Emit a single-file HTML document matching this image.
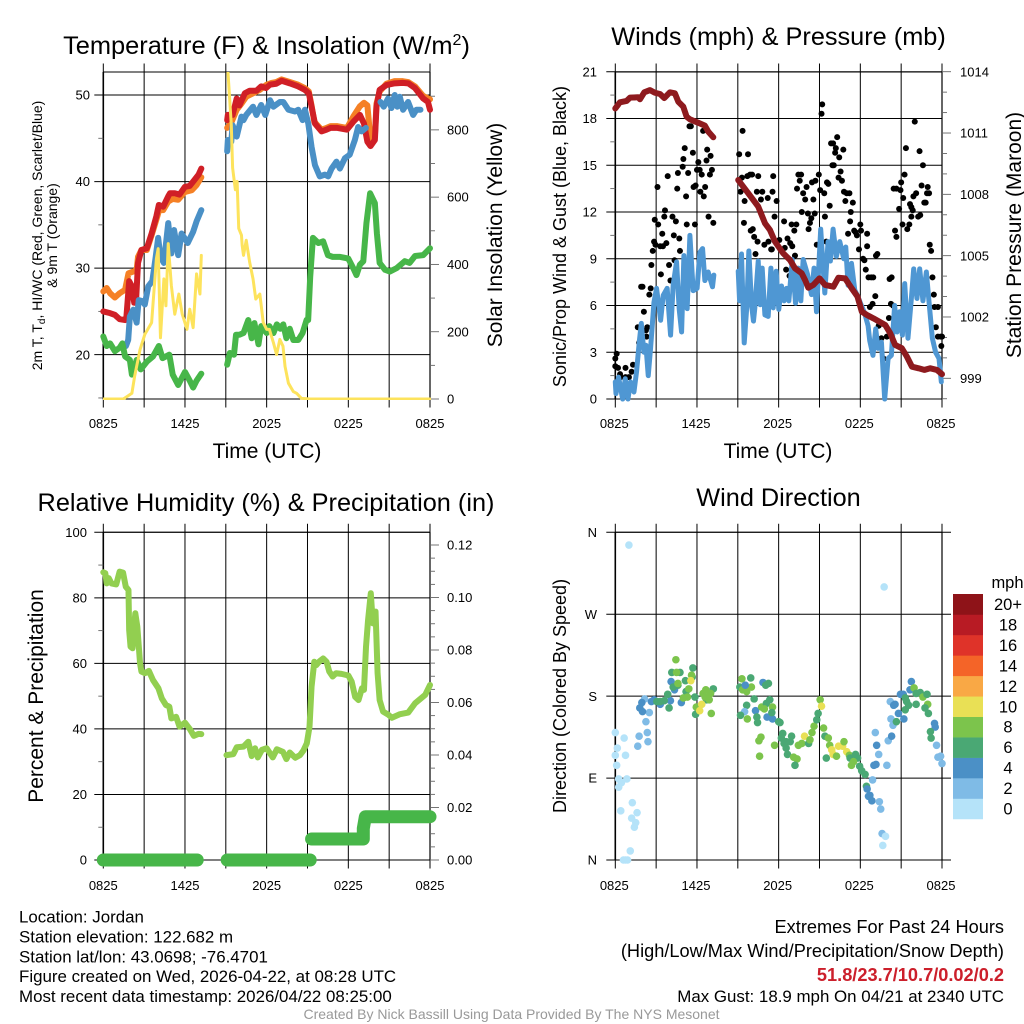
<!DOCTYPE html>
<html lang="en">
<head>
<meta charset="utf-8">
<title>NYS Mesonet Meteogram - Jordan</title>
<style>
html,body{margin:0;padding:0;background:#fff;width:1024px;height:1024px;overflow:hidden}
svg{display:block;font-family:"Liberation Sans",Arial,sans-serif}
text{fill:#000}
</style>
</head>
<body>
<svg id="chart" xmlns="http://www.w3.org/2000/svg" width="1024" height="1024" viewBox="0 0 1024 1024">
<defs><clipPath id="clip-temp"><rect x="103" y="72" width="328" height="328"/></clipPath></defs>
<rect x="0" y="0" width="1024" height="1024" fill="#fff"/>
<g id="layer"></g>
<text x="266.5" y="54" font-size="25.4" text-anchor="middle">Temperature (F) &amp; Insolation (W/m<tspan font-size="16" dy="-9">2</tspan><tspan dy="9">)</tspan></text>
<text x="778.5" y="45" font-size="25.3" text-anchor="middle">Winds (mph) &amp; Pressure (mb)</text>
<text x="266" y="511" font-size="25.3" text-anchor="middle">Relative Humidity (%) &amp; Precipitation (in)</text>
<text x="778.5" y="506" font-size="25.3" text-anchor="middle">Wind Direction</text>
<text x="267" y="458" font-size="21" text-anchor="middle">Time (UTC)</text>
<text x="778" y="458" font-size="21" text-anchor="middle">Time (UTC)</text>
<text transform="translate(42,235.5) rotate(-90)" font-size="14" text-anchor="middle">2m T, T<tspan font-size="10" dy="3">d</tspan><tspan dy="-3">, HI/WC (Red, Green, Scarlet/Blue)</tspan></text>
<text transform="translate(57,235.5) rotate(-90)" font-size="14" text-anchor="middle">&amp; 9m T (Orange)</text>
<text transform="translate(502,235) rotate(-90)" font-size="21" text-anchor="middle">Solar Insolation (Yellow)</text>
<text transform="translate(566,236.5) rotate(-90)" font-size="18" text-anchor="middle">Sonic/Prop Wind &amp; Gust (Blue, Black)</text>
<text transform="translate(1021,235) rotate(-90)" font-size="21" text-anchor="middle">Station Pressure (Maroon)</text>
<text transform="translate(43,696) rotate(-90)" font-size="21" text-anchor="middle">Percent &amp; Precipitation</text>
<text transform="translate(566,696) rotate(-90)" font-size="18" text-anchor="middle">Direction (Colored By Speed)</text>
<text x="1007.5" y="588" font-size="16.5" text-anchor="middle">mph</text>
<g font-size="16.9">
<text x="19" y="922.5">Location: Jordan</text>
<text x="19" y="942.5">Station elevation: 122.682 m</text>
<text x="19" y="962.5">Station lat/lon: 43.0698; -76.4701</text>
<text x="19" y="982">Figure created on Wed, 2026-04-22, at 08:28 UTC</text>
<text x="19" y="1002">Most recent data timestamp: 2026/04/22 08:25:00</text>
</g>
<g text-anchor="end">
<text x="1004" y="933" font-size="18.2">Extremes For Past 24 Hours</text>
<text x="1004" y="957" font-size="18.2">(High/Low/Max Wind/Precipitation/Snow Depth)</text>
<text x="1004" y="981" font-size="18.2" font-weight="bold" style="fill:#cc1f2b">51.8/23.7/10.7/0.02/0.2</text>
<text x="1004" y="1002" font-size="16.9">Max Gust: 18.9 mph On 04/21 at 2340 UTC</text>
</g>
<text x="511.5" y="1019" font-size="14" text-anchor="middle" style="fill:#999">Created By Nick Bassill Using Data Provided By The NYS Mesonet</text>
</svg>
<script>
// ---- tick labels ----
const timeTickHours = [0, 3, 6, 9, 12, 15, 18, 21, 24];
const timeTickLabels = ['0825', '', '1425', '', '2025', '', '0225', '', '0825'];
const tempTicks = [20, 30, 40, 50];
const tempMinorTicks = [15, 25, 35, 45];
const insolTicks = [0, 200, 400, 600, 800];
const insolMinorTicks = [100, 300, 500, 700, 900];
const windTicks = [0, 3, 6, 9, 12, 15, 18, 21];
const windMinorTicks = [1.5, 4.5, 7.5, 10.5, 13.5, 16.5, 19.5];
const pressureTicks = [999, 1002, 1005, 1008, 1011, 1014];
const pressureMinorTicks = [998, 1000, 1001, 1003, 1004, 1006, 1007, 1009, 1010, 1012, 1013];
const rhTicks = [0, 20, 40, 60, 80, 100];
const rhMinorTicks = [10, 30, 50, 70, 90];
const precipTicks = [0, 0.02, 0.04, 0.06, 0.08, 0.10, 0.12];
const precipMinorTicks = [0.005, 0.01, 0.015, 0.025, 0.03, 0.035, 0.045, 0.05, 0.055, 0.065, 0.07, 0.075, 0.085, 0.09, 0.095, 0.105, 0.11, 0.115];
const dirTicks = [0, 90, 180, 270, 360];
const dirTickLabels = ['N', 'E', 'S', 'W', 'N'];
const speedLabels = ['0', '2', '4', '6', '8', '10', '12', '14', '16', '18', '20+'];
const speedColors = ['#b5e3f9', '#7fbbe6', '#4b90c6', '#4aa874', '#7cc44c', '#e9e055', '#f9a845', '#f46428', '#df3329', '#b81b24', '#8e1318'];

// ---- temperature panel (F), null marks a data gap ----
const orangeHours = [0,.25,.5,.85,1.2,1.6,1.85,2.2,2.45,2.55,2.8,3.2,3.55,3.9,4.1,4.4,4.77,5.1,5.5,6,6.5,6.85,7.2,null,9.1,9.4,9.8,10.15,10.5,11,11.5,12,12.35,12.7,13.1,13.7,14.3,14.8,15.1,15.3,15.5,16.03,16.4,16.7,17.2,17.9,18.36,18.85,19.15,19.4,19.63,19.95,20.07,20.3,20.8,21.4,22,22.4,22.9,23.5,24];
const orangeValues = [27.3,27.7,27.1,26.6,27.1,27.5,29.4,29.6,29.8,31.3,32.1,32.1,33.8,35.6,36.7,36.7,37.7,38,37.9,38.8,39,39.6,40.5,null,46.2,46.8,48.3,49,49.8,50.2,50.6,51.2,51.4,51.5,51.8,51.5,51.2,50.8,50.4,48.8,46.9,46,46.2,46.4,46.4,46.2,47.5,48.7,49.1,48.8,44.8,45.2,49,50.4,51.3,51.6,51.6,51.5,51,49.9,49.5];
const redHours = [0,.5,.85,1.2,1.6,1.7,1.9,2.1,2.27,2.4,2.55,2.8,3.2,3.55,3.9,4.08,4.4,4.77,4.9,5.25,5.6,6,6.35,6.7,7,7.2,null,9.1,9.15,9.5,9.8,10,10.4,10.75,11.25,11.6,11.95,12.25,12.7,13.1,13.7,14.3,14.8,15.1,15.3,15.55,16.03,16.4,16.7,17.2,17.9,18.36,18.85,19.15,19.4,19.63,19.95,20.07,20.3,20.8,21.4,22,22.4,22.9,23.5,23.85,24];
const redValues = [25,24.8,24.6,24.1,24,24.4,28.5,27.9,26,26,30.6,32.1,32.3,34,36,37.3,37.1,38.3,38.65,38.65,38.5,39.4,39.5,40.2,40.8,41.5,null,47.1,47.7,47.7,49.6,48.8,50.2,50.5,50.5,51,50.8,51.2,51.3,51.65,51.35,51,50.6,50.2,48.65,46.7,45.8,46,46.2,46.2,46,46.9,47.7,46.7,44.6,44.1,44.8,48.65,50.6,51.15,51.35,51.4,51.35,50.8,49.6,49.2,48.3];
const blueHours = [1.66,1.83,1.95,2.2,2.45,2.6,2.85,3.05,3.3,3.6,3.85,4.03,4.2,4.45,4.77,5,5.2,5.5,5.75,6.2,6.6,6.85,7.2,null,9.1,9.15,9.4,9.5,9.8,10.15,10.3,10.5,11,11.25,11.6,11.9,12.25,12.5,12.98,13.22,13.6,14.08,14.32,14.64,14.81,15.06,15.3,15.55,15.9,16.28,16.52,16.77,17.13,17.38,17.75,18.1,18.48,18.72,18.97,19.29,null,20.36,20.6,20.92,21.17,21.41,21.6,21.78,22.02,22.39,22.76,23,23.3];
const blueValues = [21,21.7,24.4,25.2,23.7,26.3,26.2,25.8,27.9,28.5,31.3,33.5,31.3,30.6,35.2,31.7,34.4,31.5,34,32.9,34.2,35.4,36.7,null,43.5,44.8,44.6,46.5,45.2,47.5,47.1,47.7,48.65,47.7,48.85,47.7,49.4,48.65,49.2,49.2,48.3,48.1,48.3,47.1,48.3,46.7,44,41.9,40.6,40.8,40.6,41.5,42.3,41.5,42.7,43.1,44.8,46.3,45.8,46.2,null,49.2,48.65,49.6,48.5,50,48.65,49.8,48.3,49.2,47.7,48.3,48.3];
const greenHours = [0,.25,.5,.85,1.2,1.4,1.6,1.95,2.1,2.45,2.75,3.2,3.65,4.08,4.35,4.85,5.1,5.5,6,6.35,6.6,6.85,7.2,null,9.1,9.3,9.6,9.75,10,10.3,10.65,10.9,11.1,11.4,11.6,12,12.2,12.5,12.75,13,13.22,13.45,13.7,13.96,14.32,14.64,14.93,15.05,15.2,15.4,15.8,16.15,16.5,16.85,17.4,18,18.36,18.6,18.85,19.1,19.33,19.6,19.95,20.1,20.3,20.7,21.05,21.55,22.15,22.5,22.9,23.5,24];
const greenValues = [22.1,21,21.3,20.4,20.8,21.3,19.8,19.4,17.7,19.4,18.3,19.2,19.8,21,19.6,20,17.7,16.5,18,17,16.2,17,17.8,null,18.85,20.2,20,22.3,22.3,22.5,24,21.9,23.65,21.2,23.3,22.5,23.3,22.5,23.5,23,23.5,21.9,23,21.7,21.7,22.5,24,24,29,33.5,32.9,33.1,31.5,31.3,31.3,31.1,30,29.2,30.4,30.8,35.2,38.65,37.5,34,30.6,29.8,29.6,30,30.8,30.6,31.4,31.5,32.3];
const insolHours = [0,1.47,2.1,2.3,2.7,3.05,3.55,3.9,4.03,4.2,4.45,4.6,4.77,5,5.25,5.55,5.8,6.15,6.35,6.6,6.85,7.1,7.2,null,9.1,9.15,9.4,9.5,9.7,9.83,9.95,10.15,10.2,10.3,10.5,10.75,11,11.2,11.5,11.75,12,12.2,12.5,12.73,12.97,13.2,13.35,13.6,13.96,14.2,14.55,15.2,24];
const insolValues = [0,0,17,67,147,192,227,417,447,182,357,277,462,337,252,312,252,207,267,212,372,312,427,null,977,977,817,687,622,647,507,487,457,427,472,407,357,297,312,227,207,207,167,132,177,157,97,47,22,17,2,0,0];

// ---- winds and pressure panel ----
const windHours = [0,.05,.24,.54,.73,.93,1.12,1.37,1.56,1.76,1.91,2.1,2.25,2.42,2.59,2.84,3.03,3.33,3.52,3.81,4.06,4.25,4.5,4.69,4.87,5.04,5.28,5.48,5.72,6.01,6.21,6.41,6.58,6.82,7.14,7.24,null,9.03,9.13,9.27,9.47,9.67,9.81,10.01,10.15,10.25,10.5,10.64,10.79,10.99,11.23,11.43,11.6,11.82,12.01,12.21,12.4,12.58,12.75,13,13.24,13.43,13.63,13.8,14.12,14.41,14.6,14.78,15.09,15.39,15.63,15.8,16,16.24,16.49,16.78,16.93,17.1,17.35,17.59,17.83,18.08,18.32,18.57,18.69,18.93,19.13,19.3,19.55,19.79,20.04,20.28,20.52,20.7,20.89,21.09,21.26,21.5,21.75,21.92,22.16,22.36,22.6,22.85,23.04,23.29,23.53,23.78,23.95];
const windSpeeds = [1.1,.35,1.4,0,1.3,0,1.1,.45,1.75,3.65,4.85,3,3.45,1.5,3.25,6.2,7.1,5.05,6.65,7.1,4.1,7.3,8.8,5.8,4.3,9.2,5.8,10.5,6.95,7.1,9.4,9.65,7.6,8.15,7.2,7.95,null,8.2,6.3,9.3,3.6,6.05,9.5,6.05,5,5.85,8.85,6.05,8.4,5.4,5.3,8.4,5.85,8.2,5.75,7.25,6.3,7.1,6.3,8.95,6.15,8.4,6.3,8.95,8,6.7,8.4,5.6,10.9,6.8,10.1,8.85,10.9,9.15,10.1,9,9.75,7.3,8.7,7,6.55,6,5.5,4.7,3.75,2.8,4.5,3.25,3.65,0,2.6,2.8,6,4.3,5.6,4.1,7.4,3.9,6.45,8.35,6.45,8.35,6.3,8.15,6.3,3.9,3,2.6,1.1];
const gustHours = [0,.1,0,.2,.35,.4,.75,.75,1,1.2,1.3,1.65,1.75,1.9,2,2.1,2.25,2.35,2.3,2.3,2.5,2.6,2.65,2.75,2.85,2.9,3.1,3.15,2.95,3.3,3.35,3.45,3.5,3.6,3.65,3.75,3.85,3.95,4.05,4.2,4.3,4.35,4.45,4.55,4.6,4.7,4.75,4.95,5,5.1,5.2,5.25,5.35,5.45,5.55,5.7,5.75,5.85,5.9,6,6.1,6.2,6.25,6.35,6.45,6.5,6.6,6.7,6.75,6.85,6.95,7,7.1,7.2,9.1,9.35,9.3,9.2,9.45,9.5,9.75,9.7,9.9,10.05,9.95,10.1,10.2,10.3,10.45,10.4,10.5,10.7,10.8,10.95,11.2,11.25,11.45,11.55,11.6,11.85,11.7,11.5,12.05,12.4,12.15,12.45,12.65,12.85,13,12.95,13.15,13.3,13.2,12.55,12.8,13.35,13.45,13.55,13.65,13.7,13.8,13.95,14.05,14.15,14.2,14.3,14.4,14.45,14.55,14.65,14.7,14.8,14.95,15.05,15.15,15.2,15.35,15.4,15.5,15.55,15.65,15.75,15.85,15.95,16,16.05,16.15,16.2,16.3,16.45,16.55,16.4,16.65,16.75,16.8,16.9,17,17.1,17.2,17.25,17.3,17.45,17.55,17.65,17.75,17.9,18,18.05,18.2,18.3,18.4,18.5,18.5,18.6,18.8,18.95,18.7,18.9,19.1,19.15,19.25,19.35,19.55,19.7,19.85,19.95,20.1,20.15,20.3,20.25,20.4,20.55,20.65,20.45,20.65,20.85,20.95,21,21.1,21.15,21.25,21.35,21.45,21.6,21.65,21.75,21.75,21.85,21.9,22,22.1,22.25,22.35,22.4,22.5,22.6,22.7,22.8,22.9,22.95,23.05,23.1,23.2,23.3,23.4,23.45,23.7,23.55,23.7,23.9,24,23.95];
const gustSpeeds = [2.6,2.9,2.1,2,1.6,1.4,2,1.4,1.4,1.75,2.2,4.6,3.6,7.2,7.2,5.6,4.4,4.6,4,3.1,6.7,7.1,8.6,9.5,10.1,11.5,13.6,11.2,9.9,9.8,8,10.6,9.8,11.7,12.1,10,14.3,8.6,7.6,11.7,10.5,8.9,11.4,13.5,14.5,10.3,9.5,14.9,15.4,16.1,13,11.2,14.5,17.5,17.5,15.8,13.6,11.2,13.7,14.7,15.2,14.7,13.3,14.4,17.2,13,13.6,15.3,16,11.7,14.4,15.6,14.7,11.3,15.7,17.2,14.2,13.3,11.3,12.7,15.7,14.3,14.4,14.4,10.8,10.9,10.4,9.3,10.1,13.3,14.3,12.8,13.3,9.9,12.9,10.1,9.6,13.3,14.3,12.7,11.7,9.6,10.2,11.4,9.6,9.7,10.3,10,9.8,11.2,10.8,11.2,9.2,8.3,7.9,13.5,14.4,14,14.4,12,13.2,12.8,13.6,11.9,10.9,11.3,11.6,13.9,12.8,11.9,14,9.9,14.4,13.4,18.3,18.9,13.2,11.7,10.1,13.9,13.8,12.4,16.4,15,16.4,15,15.8,16.1,16.8,15.5,14.6,14.2,14,16,13.3,12.7,13.2,10.6,13.2,11.4,12,12.6,10.8,10.7,10.5,9.6,11.2,10.8,9,8.9,8.3,10.6,9.8,7.8,7.8,7.8,5.9,6.1,6.6,9.2,9.3,4.7,3.9,2.6,1.5,4,5.2,7.7,7.8,6.1,6,10.8,10.4,13.5,13.5,12.2,13.4,13.9,11.2,12.9,14.4,16.1,10.9,11.2,12.5,12.3,11.7,12.1,13,17.8,13.2,11.7,15.9,11.8,13.7,15,12.6,12.6,13.2,13.6,13.2,9.9,9.5,7.8,6.7,5.9,5.9,4.6,4,4,4,3.4];
const pressureHours = [0,.34,.83,1.08,1.69,1.81,2.13,2.55,2.91,3.28,3.6,4.01,4.38,4.63,4.99,5.24,5.48,6.1,6.58,6.83,7.2,null,9.03,9.77,10.5,11,11.36,11.73,12.34,12.83,13.2,13.69,13.94,14.18,14.55,15,15.41,16.02,16.39,16.88,17.37,17.79,18.11,18.48,18.97,19.83,20.2,20.56,21.05,21.42,21.79,22.28,22.7,23.14,23.63,24];
const pressureValues = [1012.2,1012.5,1012.57,1012.73,1012.75,1012.65,1012.99,1013.1,1012.97,1012.91,1012.71,1012.99,1012.94,1012.53,1012.29,1011.8,1011.67,1011.5,1011.36,1011.07,1010.79,null,1008.7,1008.05,1007.4,1006.58,1006.26,1005.69,1005.11,1004.79,1004.38,1004.14,1003.81,1003.43,1003.57,1003.89,1003.57,1003.48,1003.92,1003.89,1003.4,1003,1002.26,1002.1,1001.93,1001.61,1001.2,1000.63,1000.47,1000.06,999.57,999.49,999.41,999.49,999.41,999.2];

// ---- humidity and precipitation panel ----
const rhHours = [0,.15,.25,.4,.6,.95,1.2,1.45,1.65,1.85,1.9,2,2.15,2.35,2.5,2.7,2.8,3.05,3.35,3.65,4.05,4.3,4.6,4.85,5,5.35,5.6,6,6.35,6.65,7,7.2,null,9.05,9.55,9.8,10.3,10.65,10.9,11.15,11.35,11.65,12,12.45,12.75,13.2,13.45,13.7,14.1,14.45,14.7,14.95,15.15,15.3,15.5,15.65,15.9,16.15,16.4,16.6,16.85,17.1,17.5,18,18.25,18.5,18.75,19,19.15,19.3,19.45,19.65,19.8,20,20.15,20.3,20.55,20.95,21.2,21.8,22.4,22.9,23.65,24];
const rhValues = [87.8,87.5,84.4,86,84.4,84.1,88,87.7,83.4,82.4,70.2,65.1,64.6,75.3,71.2,60,57.5,57,57.7,54.9,52.4,49.3,47.3,46.8,43.2,43.7,40.7,41.9,40,37.9,38.5,38.4,null,32,32.3,34.4,34.6,36.1,31.7,34.1,31.3,33.6,34.1,31.3,33.8,33,30.8,32.8,31.2,32,33.4,35.6,40.7,52.9,60.5,59.5,60.7,61.5,60.5,57.5,56,57,56.8,56.3,54.4,49.8,48.8,52.4,51.9,65.1,73.2,81.4,72.2,75.8,57,48.8,45.3,44.3,43.4,44.5,45,47.8,50.4,53.4];
const precipHours = [0,6.9,null,9.1,15.2,null,15.3,19.1,19.1,19.25,24];
const precipValues = [0,0,null,0,0,null,0.008,0.008,0.012,0.0165,0.0165];

// ---- wind direction panel (hour, degrees, speed mph) ----
const dirHours = [1,0,.65,.15,0,.75,.1,.25,.45,.85,.25,1.25,.4,1.6,1.2,1.5,1.4,1.1,.6,.9,.75,1.75,2.35,2.4,1.65,2.25,2.5,2.15,1.95,1.8,2,2.65,2.85,3.3,4.05,4.85,4.1,4.35,3.05,3.3,3.6,3.85,3.95,4.15,4.75,4.25,4.6,5.15,5.7,5.2,5.85,5.9,7.2,6.7,5.65,4.45,4.5,4.6,5.6,5.4,5,5.3,6.45,6.65,7,6.9,7.05,5.95,6.6,5.55,6.35,6.2,9.15,9.3,9.95,9.35,9.65,10,9.55,10.2,9.65,9.5,9.2,9.7,10.3,10.4,10.45,10.7,10.55,10.6,10.85,11.05,11.25,11.35,10.75,11.1,10.95,11.15,11.55,11.55,11.5,11.7,12,12.1,12.3,12.2,12.4,12.55,12.55,12.65,12.95,12.85,13.1,13.35,13.2,13.45,13.7,13.9,14.2,14.3,14.45,14.6,14.8,14.9,15.05,15.15,15.3,15.4,15.65,15.75,15.5,15.9,16,16.25,16.4,16.7,16.8,17,17.2,17.25,17.65,17.8,17.35,17.5,17.95,18.1,18.35,18.45,18.7,18.6,18.85,18.5,18.9,19.1,19.2,19.35,19,19.15,19.95,19.4,19.5,19.6,19.85,19.65,19.75,20.05,20.3,20.2,20.55,20.45,20.8,20.25,20.4,20.65,21.2,20.95,21.15,21.3,21.4,21.3,21.55,21.65,21.75,21.95,22.1,22.1,22.4,22.6,22.9,22.95,22.75,23,23.45,23.5,23.15,23.2,23.6,23.7,23.9,24];
const dirValues = [346,140,134,123,115,115,104,89,85,89,80,63,54,52,46,41,36,10,0,0,0,136,140,130,125,152,162,177,173,167,163,174,176,171,175,173,196,187,174,174,175,182,167,206,206,190,192,197,211,185,179,160,188,176,201,220,206,194,203,188,178,179,183,187,183,176,161,168,179,197,171,164,190,199,200,187,185,190,192,177,170,163,159,155,164,157,151,135,131,114,195,192,194,176,168,172,166,157,168,155,162,126,152,151,139,134,128,130,123,116,136,130,113,111,104,126,128,136,128,132,140,147,154,161,176,169,145,136,134,126,112,121,116,114,125,125,130,119,115,112,116,112,104,108,103,98,94,81,71,70,65,78,88,140,126,116,104,105,104,64,56,29,26,16,300,131,136,174,171,170,161,155,148,152,155,182,182,178,174,165,170,187,196,189,183,171,184,179,182,171,167,161,150,146,141,134,126,113,114,106];
const dirSpeeds = [1,1,1,1,1,1,1,1,1,1,1,1,1,1,1,1,1,1,1,1,1,3,3,3,3,3,3,3,5,5,5,5,5,5,5,5,5,5,7,7,7,7,7,7,7,7,7,7,7,7,7,7,7,7,7,9,9,9,9,9,9,9,9,9,9,9,9,9,9,11,11,11,7,9,7,9,9,9,5,7,7,3,7,9,5,7,7,9,9,9,5,7,7,7,9,7,9,5,9,5,7,9,7,7,7,7,7,7,7,7,7,7,9,9,7,9,9,11,7,9,9,9,7,7,9,11,9,7,9,9,7,11,11,9,11,11,9,11,9,7,7,7,9,9,7,7,7,7,5,5,5,5,3,3,5,3,5,5,3,3,3,3,1,1,1,3,5,3,5,5,5,3,3,7,5,5,5,7,7,7,7,5,5,9,7,7,7,9,7,9,7,7,5,5,7,7,3,3,3,3];

// ---- geometry and axis functions ----
const layer = document.getElementById('layer');
const NS = 'http://www.w3.org/2000/svg';
const panelLeft = {x0: 103.3, x1: 430};
const panelRight = {x0: 615.3, x1: 942};
const rowTop = {top: 72, bottom: 399};
const rowBottom = {top: 532.3, bottom: 860};

function xAxis(panel) { return h => panel.x0 + (panel.x1 - panel.x0) * h / 24; }
function yAxis(pxBottom, pxTop, vBottom, vTop) { return v => pxBottom + (pxTop - pxBottom) * (v - vBottom) / (vTop - vBottom); }

function mk(tag, attrs, parent) {
  const el = document.createElementNS(NS, tag);
  for (const k in attrs) el.setAttribute(k, attrs[k]);
  (parent || layer).appendChild(el);
  return el;
}
function pathOf(hours, values, sx, sy) {
  let d = '', pen = false;
  for (let i = 0; i < hours.length; i++) {
    if (hours[i] === null || values[i] === null) { pen = false; continue; }
    d += (pen ? 'L' : 'M') + sx(hours[i]).toFixed(2) + ' ' + sy(values[i]).toFixed(2);
    pen = true;
  }
  return d;
}
function drawLine(name, hours, values, sx, sy, color, width, clip) {
  const el = mk('path', {d: pathOf(hours, values, sx, sy), fill: 'none', stroke: color, 'stroke-width': width, 'stroke-linecap': 'round', 'stroke-linejoin': 'round'});
  if (clip) el.setAttribute('clip-path', 'url(#' + clip + ')');
  
  
  return el;
}
function drawGridAndFrame(name, panel, row, sx, leftTicks, leftScale, leftExt, rightExt) {
  const g = mk('g', {stroke: '#000', 'stroke-width': 1, fill: 'none'});
  
  
  timeTickHours.forEach(h => {
    const x = sx(h);
    mk('line', {x1: x, x2: x, y1: row.top - 8.5, y2: row.bottom + 8.5}, g);
  });
  leftTicks.forEach(v => {
    const y = leftScale(v);
    mk('line', {x1: panel.x0 - leftExt, x2: panel.x1 + rightExt, y1: y, y2: y}, g);
  });
  mk('line', {x1: panel.x0, x2: panel.x1, y1: row.top, y2: row.top}, g);
  mk('line', {x1: panel.x0, x2: panel.x1, y1: row.bottom, y2: row.bottom}, g);
  mk('line', {x1: panel.x0, x2: panel.x0, y1: row.top, y2: row.bottom, 'stroke-width': 1.6}, g);
  mk('line', {x1: panel.x1, x2: panel.x1, y1: row.top, y2: row.bottom, 'stroke-width': 1.2}, g);
}
function drawMinorTicks(name, xStart, xEnd, ticks, scale, color) {
  const g = mk('g', {stroke: color || '#666', 'stroke-width': 0.9});
  
  
  ticks.forEach(v => { const y = scale(v); mk('line', {x1: xStart, x2: xEnd, y1: y, y2: y}, g); });
}
function drawLabels(name, x, anchor, ticks, scale, fmt) {
  const g = mk('g', {'font-size': 13, 'text-anchor': anchor});
  
  
  ticks.forEach((v, i) => {
    const t = mk('text', {x: x, y: scale(v) + 4.6}, g);
    t.textContent = fmt ? fmt(v, i) : String(v);
  });
}
function drawTimeLabels(name, sx, y, shift) {
  const g = mk('g', {'font-size': 13, 'text-anchor': 'middle'});
  
  
  timeTickHours.forEach((h, i) => {
    if (!timeTickLabels[i]) return;
    const t = mk('text', {x: sx(h) + shift, y: y}, g);
    t.textContent = timeTickLabels[i];
  });
}

// ---- temperature panel ----
const xL = xAxis(panelLeft), xR = xAxis(panelRight);
const yTemp = yAxis(399, 72, 14.88, 52.66);
const yInsol = yAxis(399, 72, 0, 972);
drawGridAndFrame('temperature-panel', panelLeft, rowTop, xL, tempTicks, yTemp, 9, 0);
drawMinorTicks('temperature-minor-ticks', panelLeft.x0 - 5, panelLeft.x0, tempMinorTicks, yTemp);
drawMinorTicks('insolation-major-ticks', panelLeft.x1, panelLeft.x1 + 9, insolTicks, yInsol);
drawMinorTicks('insolation-minor-ticks', panelLeft.x1, panelLeft.x1 + 5, insolMinorTicks, yInsol);
drawLabels('temperature-tick-labels', 90, 'end', tempTicks, yTemp);
drawLabels('insolation-tick-labels', 447, 'start', insolTicks, yInsol);
drawTimeLabels('temperature-time-labels', xL, 428, 0);
drawLine('nine-meter-temperature-line', orangeHours, orangeValues, xL, yTemp, '#f58025', 6);
drawLine('two-meter-temperature-line', redHours, redValues, xL, yTemp, '#d01f26', 6);
drawLine('heat-index-wind-chill-line', blueHours, blueValues, xL, yTemp, '#4a90c6', 6);
drawLine('dewpoint-line', greenHours, greenValues, xL, yTemp, '#47b649', 6);
drawLine('solar-insolation-line', insolHours, insolValues, xL, yInsol, '#fde35c', 3, 'clip-temp');

// ---- winds panel ----
const yWind = yAxis(399, 71.7, 0, 21);
const yPres = yAxis(378.3, 71.7, 999, 1014);
drawGridAndFrame('winds-panel', panelRight, rowTop, xR, windTicks, yWind, 9, 0);
drawMinorTicks('wind-minor-ticks', panelRight.x0 - 5, panelRight.x0, windMinorTicks, yWind);
drawMinorTicks('pressure-major-ticks', panelRight.x1, panelRight.x1 + 9, pressureTicks, yPres);
drawMinorTicks('pressure-minor-ticks', panelRight.x1, panelRight.x1 + 5, pressureMinorTicks, yPres);
drawLabels('wind-tick-labels', 597, 'end', windTicks, yWind);
drawLabels('pressure-tick-labels', 960, 'start', pressureTicks, yPres);
drawTimeLabels('winds-time-labels', xR, 428, -1);
const gustGroup = mk('g', {fill: '#000'});


gustHours.forEach((h, i) => {
  const c = mk('circle', {cx: xR(h), cy: yWind(gustSpeeds[i]), r: 3}, gustGroup);
  
  
});
drawLine('sonic-wind-line', windHours, windSpeeds, xR, yWind, '#4f97d3', 5);
drawLine('station-pressure-line', pressureHours, pressureValues, xR, yPres, '#8e1a1e', 6);

// ---- humidity panel ----
const yRh = yAxis(860, 532.3, 0, 100);
const yPrecip = yAxis(860, 545, 0, 0.12);
drawGridAndFrame('humidity-panel', panelLeft, rowBottom, xL, rhTicks, yRh, 9, 0);
drawMinorTicks('humidity-minor-ticks', panelLeft.x0 - 5, panelLeft.x0, rhMinorTicks, yRh);
drawMinorTicks('precipitation-major-ticks', panelLeft.x1, panelLeft.x1 + 9, precipTicks, yPrecip);
drawMinorTicks('precipitation-minor-ticks', panelLeft.x1, panelLeft.x1 + 5, precipMinorTicks, yPrecip);
drawLabels('humidity-tick-labels', 87, 'end', rhTicks, yRh);
drawLabels('precipitation-tick-labels', 447, 'start', precipTicks, yPrecip, v => v.toFixed(2));
drawTimeLabels('humidity-time-labels', xL, 890, 0);
drawLine('relative-humidity-line', rhHours, rhValues, xL, yRh, '#92cf50', 6);
drawLine('precipitation-line', precipHours, precipValues, xL, yPrecip, '#47b649', 13);

// ---- direction panel ----
const yDir = yAxis(860, 532.3, 0, 360);
drawGridAndFrame('direction-panel', panelRight, rowBottom, xR, dirTicks, yDir, 9, 9);
drawLabels('direction-tick-labels', 597, 'end', dirTicks, yDir, (v, i) => dirTickLabels[i]);
drawTimeLabels('direction-time-labels', xR, 890, -1);
const dirGroup = mk('g', {});


dirHours.forEach((h, i) => {
  const idx = Math.min(speedColors.length - 1, Math.floor(dirSpeeds[i] / 2));
  const c = mk('circle', {cx: xR(h), cy: yDir(dirValues[i]), r: 3.8, fill: speedColors[idx]}, dirGroup);
  
  
});

// ---- colorbar ----
const cbGroup = mk('g', {});


const cbTop = 594, cbStep = 20.45;
speedColors.forEach((color, i) => {
  const row = speedColors.length - 1 - i;
  const r = mk('rect', {x: 953, y: cbTop + row * cbStep, width: 30, height: cbStep + 0.3, fill: color}, cbGroup);
  
  
  const t = mk('text', {x: 1008, y: cbTop + row * cbStep + cbStep / 2 + 5.8, 'font-size': 16.5, 'text-anchor': 'middle'}, cbGroup);
  
  
  t.textContent = speedLabels[i];
});
</script>
</body>
</html>
